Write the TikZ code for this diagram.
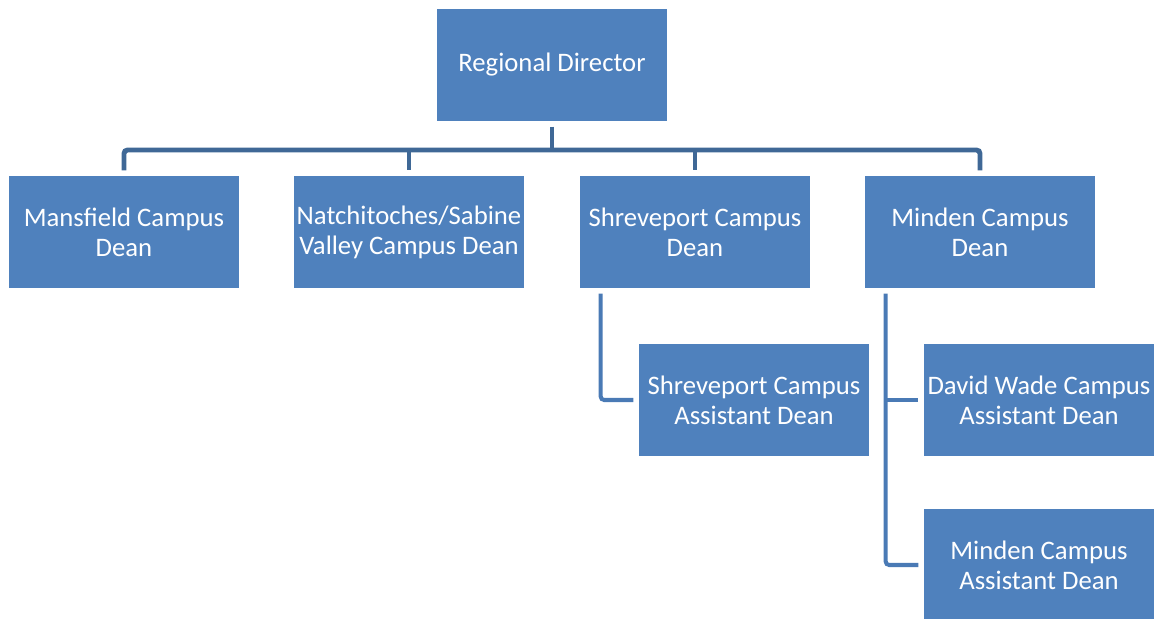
\documentclass[tikz,border=0pt]{standalone}
\usepackage{fontspec}
\setmainfont{Carlito}
\definecolor{boxblue}{HTML}{4F81BD}
\definecolor{busblue}{HTML}{3F6896}
\definecolor{subblue}{HTML}{4A7AB5}
\tikzset{
  post/.style={rectangle, fill=boxblue, text=white, minimum width=4.6cm, minimum height=2.24cm,
    align=center, inner sep=0pt, font=\fontsize{15.2}{17.2}\selectfont},
  busline/.style={draw=busblue, line width=2.8pt},
  subline/.style={draw=subblue, line width=2.3pt, rounded corners=2pt}
}
\begin{document}
\begin{tikzpicture}[x=0.02cm, y=-0.02cm]
  \useasboundingbox (0,0) rectangle (1157,619);

  \node [post] (RD) at (552,65) {Regional Director};
  \node [post] (MD) at (124,232) {Mansfield Campus\\Dean};
  \node [post] (ND) at (409,232) {Natchitoches/Sabine\\Valley Campus Dean};
  \node [post] (SD) at (695,232) {Shreveport Campus\\Dean};
  \node [post] (MiD) at (980,232) {Minden Campus\\Dean};
  \node [post] (SA) at (754,400) {Shreveport Campus\\Assistant Dean};
  \node [post] (DW) at (1039,400) {David Wade Campus\\Assistant Dean};
  \node [post] (MiA) at (1039,565) {Minden Campus\\Assistant Dean};

  % bus from the director
  \coordinate (bus) at (552,150);
  \draw [busline, shorten <=3pt] (RD.south) -- (bus);
  \draw [busline, rounded corners=2pt, shorten <=3pt, shorten >=3pt] (MD.north) |- (bus) -| (MiD.north);
  \draw [busline, shorten >=3pt] (bus -| ND.north) -- (ND.north);
  \draw [busline, shorten >=3pt] (bus -| SD.north) -- (SD.north);

  % assistant deans
  \coordinate (Sx) at ([xshift=0.42cm]SD.south west);
  \coordinate (Mx) at ([xshift=0.42cm]MiD.south west);
  \draw [subline, shorten <=3pt, shorten >=3pt] (Sx) |- (SA.west);
  \draw [subline, shorten <=3pt, shorten >=3pt] (Mx) |- (MiA.west);
  \draw [subline, shorten >=3pt] (Mx |- DW.west) -- (DW.west);
\end{tikzpicture}
\end{document}
